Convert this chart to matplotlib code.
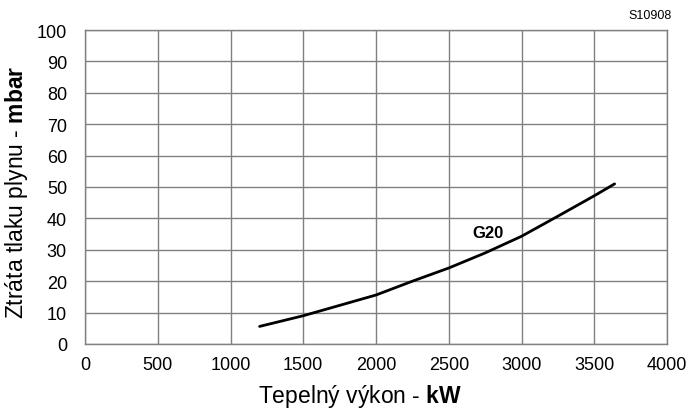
import matplotlib
matplotlib.use("Agg")
import matplotlib.pyplot as plt

plt.rcParams["font.family"] = ["Liberation Sans", "DejaVu Sans"]
plt.rcParams["mathtext.fontset"] = "custom"
plt.rcParams["mathtext.rm"] = "Liberation Sans"
plt.rcParams["mathtext.bf"] = "Liberation Sans:bold"

# výkon (kW) a tlaková ztráta (mbar) pro G20
power_kw = [1200, 1500, 1750, 2000, 2250, 2500, 2750, 3000, 3250, 3500, 3640]
loss_mbar = [5.6, 9.0, 12.3, 15.6, 20.0, 24.2, 29.0, 34.3, 40.7, 47.2, 51.0]

x_ticks = [0, 500, 1000, 1500, 2000, 2500, 3000, 3500, 4000]
y_ticks = [0, 10, 20, 30, 40, 50, 60, 70, 80, 90, 100]

W, H = 689, 410
fig = plt.figure(figsize=(W / 100, H / 100), dpi=100)
ax = fig.add_axes([85 / W, 1 - 345 / H, (667 - 85) / W, (345 - 31) / H])

grid_col = "#808080"
ax.set_xlim(0, 4000)
ax.set_ylim(0, 100)
ax.set_xticks(x_ticks)
ax.set_yticks(y_ticks)
ax.grid(True, color=grid_col, linewidth=1.0)
ax.set_axisbelow(True)
for sp in ax.spines.values():
    sp.set_color(grid_col)
    sp.set_linewidth(1.0)
ax.tick_params(length=0, labelsize=13, colors="black")
ax.tick_params(axis="y", pad=13)
ax.tick_params(axis="x", pad=9)

ax.plot(power_kw, loss_mbar, color="black", linewidth=2.0, solid_capstyle="round")
ax.text(2770, 35.5, "G20", fontsize=12, fontweight="bold", ha="center", va="center")

fig.text(360 / W, 1 - 403 / H, r"Tepelný výkon - $\mathbf{kW}$", fontsize=16.5,
         ha="center", va="baseline")
fig.text(16.5 / W, 1 - 192.5 / H, r"Ztráta tlaku plynu - $\mathbf{mbar}$", fontsize=16.5,
         ha="center", va="center", rotation=90)
fig.text(672 / W, 1 - 16 / H, "S10908", fontsize=9, ha="right", va="center")

fig.savefig("out.png", dpi=100)
